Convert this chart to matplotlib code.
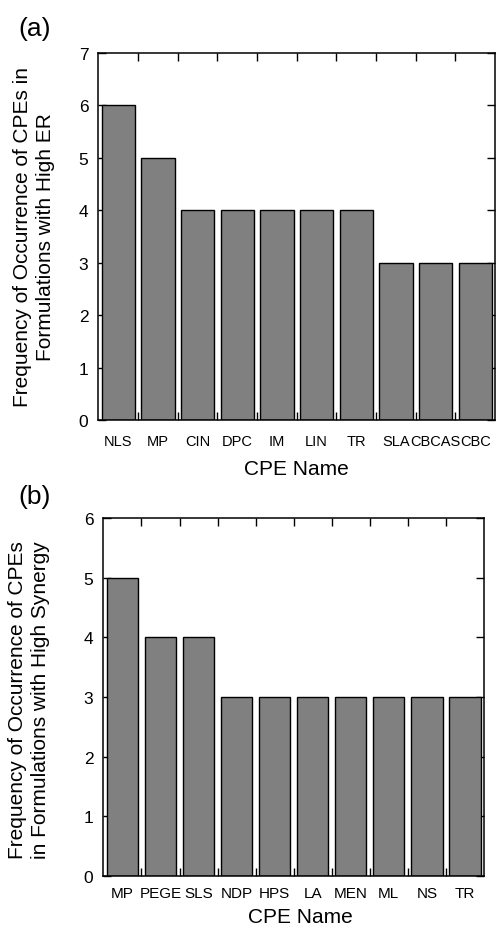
import matplotlib
matplotlib.use("Agg")
import matplotlib.pyplot as plt
import numpy as np

# Panel (a): CPEs in formulations with high ER
cpe_a = ["NLS", "MP", "CIN", "DPC", "IM", "LIN", "TR", "SLA", "CBCAS", "CBC"]
freq_a = [6, 5, 4, 4, 4, 4, 4, 3, 3, 3]
yticks_a = [0, 1, 2, 3, 4, 5, 6, 7]

# Panel (b): CPEs in formulations with high synergy
cpe_b = ["MP", "PEGE", "SLS", "NDP", "HPS", "LA", "MEN", "ML", "NS", "TR"]
freq_b = [5, 4, 4, 3, 3, 3, 3, 3, 3, 3]
yticks_b = [0, 1, 2, 3, 4, 5, 6]

plt.rcParams["font.family"] = ["Liberation Sans", "DejaVu Sans"]

W, H = 497, 928
fig = plt.figure(figsize=(W / 100, H / 100), dpi=100)


def px_axes(left, top, right, bottom):
    return fig.add_axes([left / W, 1 - bottom / H, (right - left) / W, (bottom - top) / H])


def draw_panel(ax, names, values, yticks, width, tick_fs, pad_x):
    x = np.arange(len(names))
    ax.bar(x, values, width=width, color="#808080", edgecolor="black", linewidth=1.0, zorder=2)
    ax.set_xlim(-0.51, len(names) - 0.5)
    ax.set_ylim(yticks[0], yticks[-1])
    ax.set_yticks(yticks)
    ax.set_xticks(x[:-1] + 0.5)
    ax.set_xticklabels([])
    ax.set_xticks(x, names, minor=True)
    ax.tick_params(axis="both", which="major", direction="in", length=5.5, width=1.0,
                   top=True, right=True, zorder=3)
    ax.tick_params(axis="y", which="major", labelsize=12.5, pad=7)
    ax.tick_params(axis="x", which="minor", length=0, labelsize=tick_fs, pad=pad_x)
    for s in ax.spines.values():
        s.set_linewidth(1.1)
        s.set_zorder(4)


ax_a = px_axes(98, 54, 495, 421)
draw_panel(ax_a, cpe_a, freq_a, yticks_a, 0.84, 10.5, 10)
fig.text(296.5 / W, 1 - 470 / H, "CPE Name", ha="center", va="center", fontsize=15)
fig.text(34 / W, 1 - 237 / H, "Frequency of Occurrence of CPEs in\nFormulations with High ER",
         ha="center", va="center", rotation=90, fontsize=15, linespacing=1.3)
fig.text(35 / W, 1 - 29 / H, "(a)", ha="center", va="center", fontsize=19)

ax_b = px_axes(103, 519, 484, 877)
draw_panel(ax_b, cpe_b, freq_b, yticks_b, 0.82, 11, 7)
fig.text(300 / W, 1 - 918 / H, "CPE Name", ha="center", va="center", fontsize=15)
fig.text(29 / W, 1 - 700 / H, "Frequency of Occurrence of CPEs\nin Formulations with High Synergy",
         ha="center", va="center", rotation=90, fontsize=15, linespacing=1.3)
fig.text(35 / W, 1 - 497 / H, "(b)", ha="center", va="center", fontsize=19)

fig.savefig("out.png", dpi=100, facecolor="white")
